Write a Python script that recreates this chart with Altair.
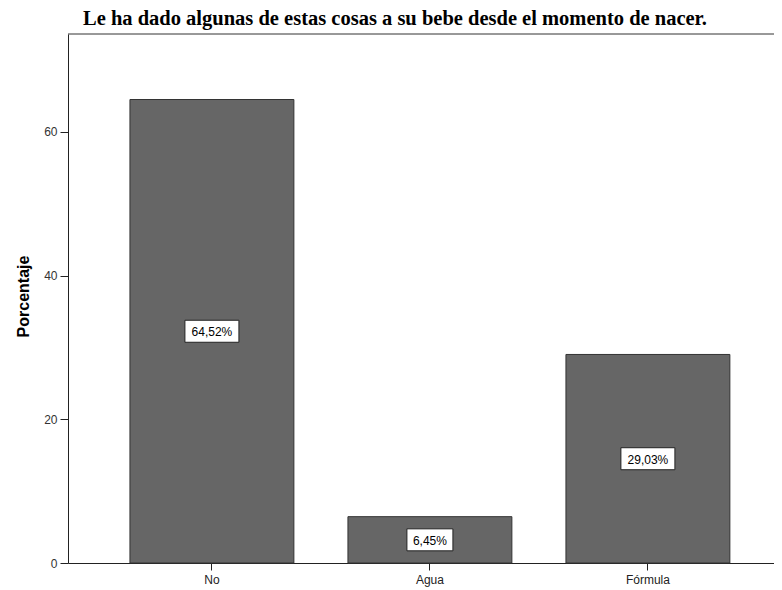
import altair as alt
import pandas as pd

categories = ["No", "Agua", "Fórmula"]
values = [64.52, 6.45, 29.03]
labels = ["64,52%", "6,45%", "29,03%"]

title_text = "Le ha dado algunas de estas cosas a su bebe desde el momento de nacer."
y_title = "Porcentaje"
y_ticks = [0, 20, 40, 60]

W, H = 706, 529
BOX_H = 22


def box_shape(label):
    w = 8 * len(label) + 6
    r = (BOX_H / 2) / (w / 2)
    return f"M-1,-{r:.4f}L1,-{r:.4f}L1,{r:.4f}L-1,{r:.4f}Z", w * w


df = pd.DataFrame({"cat": categories, "val": values, "label": labels})
df["mid"] = df["val"] / 2
df["shape"] = [box_shape(l)[0] for l in labels]
df["size"] = [box_shape(l)[1] for l in labels]

x_scale = alt.Scale(paddingInner=0.248, paddingOuter=0.2433, align=0.584)

x_enc = alt.X(
    "cat:N",
    sort=categories,
    scale=x_scale,
    axis=alt.Axis(
        title=None,
        labelAngle=0,
        labelFont="Liberation Sans",
        labelFontSize=12,
        labelColor="#222222",
        labelPadding=4,
        tickSize=7,
        tickColor="#222222",
        domainColor="#222222",
        grid=False,
    ),
)
y_scale = alt.Scale(domain=[0, 73.64], nice=False, zero=True)

base = alt.Chart(df)

bars = base.mark_bar(color="#666666", stroke="#333333", strokeWidth=1).encode(
    x=x_enc,
    y=alt.Y(
        "val:Q",
        scale=y_scale,
        axis=alt.Axis(
            values=y_ticks,
            title=y_title,
            titleFont="Liberation Sans",
            titleFontSize=16,
            titleFontWeight="bold",
            titleColor="#000000",
            titleAngle=270,
            titleX=-45,
            titleY=262,
            titleAlign="center",
            titleBaseline="middle",
            labelFont="Liberation Sans",
            labelFontSize=12,
            labelColor="#333333",
            labelPadding=3,
            tickSize=8,
            tickColor="#222222",
            domainColor="#222222",
            grid=False,
        ),
    ),
)

boxes = base.mark_point(filled=True, fill="white", stroke="#222222", strokeWidth=1, opacity=1).encode(
    x=alt.X("cat:N", sort=categories, scale=x_scale),
    y=alt.Y("mid:Q", scale=y_scale),
    shape=alt.Shape("shape:N", scale=None),
    size=alt.Size("size:Q", scale=None),
)

texts = base.mark_text(font="Liberation Sans", fontSize=12, color="#000000", baseline="middle", dy=1).encode(
    x=alt.X("cat:N", sort=categories, scale=x_scale),
    y=alt.Y("mid:Q", scale=y_scale),
    text="label:N",
)

top_rule = alt.Chart(pd.DataFrame({"k": [0]})).mark_rule(color="#333333", strokeWidth=1).encode(
    x=alt.value(0), x2=alt.value(W), y=alt.value(0)
)

chart = (
    alt.layer(bars, boxes, texts, top_rule)
    .properties(
        width=W,
        height=H,
        title=alt.TitleParams(
            title_text,
            anchor="start",
            frame="group",
            dx=15,
            dy=22,
            offset=10,
            baseline="alphabetic",
            font="Liberation Serif",
            fontSize=20.5,
            fontWeight="bold",
            color="#000000",
        ),
        autosize=alt.AutoSizeParams(type="none"),
        padding={"left": 60, "top": 26, "right": 0, "bottom": 25},
    )
    .configure_view(stroke=None)
)

chart.save("out.html", embed_options={"renderer": "svg", "actions": False})
